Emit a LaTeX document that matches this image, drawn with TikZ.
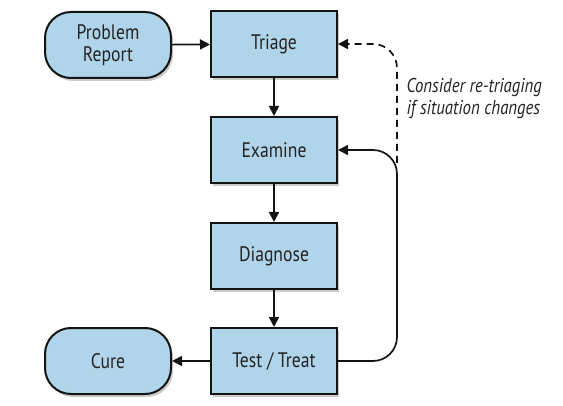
\documentclass[tikz,border=0pt]{standalone}
\usepackage{fontspec}
\setmainfont{PT Sans}[FakeStretch=0.84]
\usepackage{tikz}
\usetikzlibrary{arrows.meta,shadows}

\definecolor{boxblue}{RGB}{176,212,234}
\definecolor{inkline}{RGB}{20,20,20}
\definecolor{inktext}{RGB}{35,35,35}

\tikzset{
  stepbox/.style={draw=inkline, line width=2pt, fill=boxblue, minimum width=126pt,
    minimum height=66pt, font=\fontsize{21}{22}\selectfont, text=inktext, align=center,
    drop shadow={opacity=0.4, shadow xshift=2pt, shadow yshift=-3pt}},
  endbox/.style={stepbox, rounded corners=26pt},
  flow/.style={-{Triangle[length=10pt,width=10pt]}, line width=1.7pt, draw=inkline},
}

\begin{document}
\begin{tikzpicture}[x=1pt,y=1pt]
        \useasboundingbox (0,0) rectangle (563,405);

        % Start and end
        \node[endbox] (report) at (108,360) {Problem\\Report};
        \node[endbox] (cure) at (108,44) {Cure};

        % Main steps
        \node[stepbox] (triage) at (274,361) {Triage};
        \node[stepbox] (examine) at (274,255) {Examine};
        \node[stepbox] (diagnose) at (274,149) {Diagnose};
        \node[stepbox] (treat) at (274,44) {Test / Treat};

        % Flow down
        \draw[flow] (report) -- (triage);
        \draw[flow] (triage) -- (examine);
        \draw[flow] (examine) -- (diagnose);
        \draw[flow] (diagnose) -- (treat);
        \draw[flow] (treat) -- (cure);

        % Loop back to examine
        \coordinate (loop) at (397,44);
        \draw[flow, rounded corners=24pt] (treat.east) -- (loop) |- (examine.east);

        % Re-triage
        \coordinate (retop) at (397,242);
        \draw[flow, dashed, dash pattern=on 7pt off 5pt, rounded corners=24pt]
            (retop) |- (triage.east);

        % Re-triage label
        \node[anchor=west, align=left, text=inktext, font=\fontsize{20}{22}\selectfont\itshape]
            (note) at (403,306) {Consider re-triaging\\if situation changes};
    \end{tikzpicture}
\end{document}
